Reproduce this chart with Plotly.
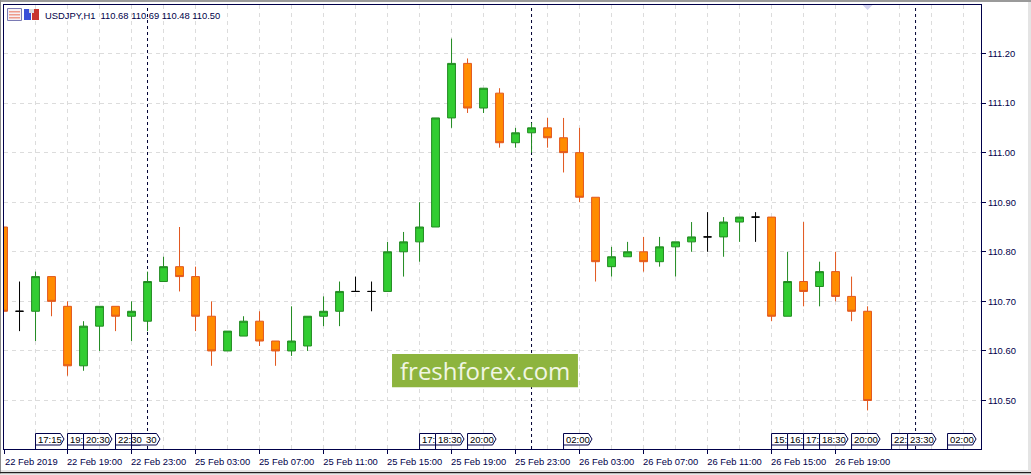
import plotly.graph_objects as go

# index, open, high, low, close of each hourly bar
bar_index = list(range(55))
opens = [110.85,110.68,110.68,110.75,110.69,110.57,110.65,110.69,110.67,110.66,110.74,110.77,110.75,110.67,110.60,110.63,110.66,110.62,110.60,110.61,
         110.67,110.68,110.72,110.72,110.72,110.80,110.82,110.85,111.07,111.18,111.09,111.12,111.02,111.04,111.05,111.03,111.00,110.91,110.77,110.79,
         110.80,110.78,110.81,110.82,110.83,110.83,110.86,110.87,110.87,110.67,110.74,110.73,110.76,110.71,110.68]
highs = [110.85,110.74,110.76,110.75,110.70,110.66,110.69,110.69,110.70,110.76,110.79,110.85,110.77,110.70,110.64,110.67,110.68,110.62,110.69,110.67,
         110.71,110.74,110.75,110.74,110.82,110.84,110.90,111.07,111.23,111.19,111.13,111.13,111.05,111.06,111.07,111.07,111.05,110.91,110.81,110.82,
         110.83,110.83,110.82,110.86,110.88,110.87,110.87,110.88,110.87,110.80,110.86,110.78,110.80,110.75,110.69]
lows = [110.68,110.64,110.62,110.67,110.55,110.56,110.60,110.64,110.62,110.64,110.74,110.72,110.64,110.57,110.60,110.63,110.61,110.57,110.59,110.60,
        110.65,110.65,110.72,110.68,110.72,110.75,110.78,110.85,111.05,111.08,111.08,111.01,111.01,111.00,111.01,110.96,110.90,110.74,110.75,110.79,
        110.76,110.77,110.75,110.80,110.80,110.79,110.82,110.82,110.66,110.67,110.69,110.69,110.70,110.66,110.48]
closes = [110.68,110.68,110.75,110.70,110.57,110.65,110.69,110.67,110.68,110.74,110.77,110.75,110.67,110.60,110.64,110.66,110.62,110.60,110.62,110.67,
          110.68,110.72,110.72,110.72,110.80,110.82,110.85,111.07,111.18,111.09,111.13,111.02,111.04,111.05,111.03,111.00,110.91,110.78,110.79,110.80,
          110.78,110.81,110.82,110.83,110.83,110.86,110.87,110.87,110.67,110.74,110.72,110.76,110.71,110.68,110.50]

y_ticks = [110.50,110.60,110.70,110.80,110.90,111.00,111.10,111.20]
x_tick_index = [0.05,4,8,12,16,20,24,28,32,36,40,44,48,52]
x_tick_labels = ["22 Feb 2019","22 Feb 19:00","22 Feb 23:00","25 Feb 03:00","25 Feb 07:00","25 Feb 11:00","25 Feb 15:00",
                 "25 Feb 19:00","25 Feb 23:00","26 Feb 03:00","26 Feb 07:00","26 Feb 11:00","26 Feb 15:00","26 Feb 19:00"]
day_separators = [9,33,57]
tag_index = [2,4,5,7,8,26,27,29,35,48,49,50,51,53,55.5,56.5,59]
tag_text = ["17:15","19:","20:30","22:30","30","17:","18:30","20:00","02:00","15:","16:","17:","18:30","20:00","22:","23:30","02:00"]
tag_clip = [0,1,0,0,0,1,0,0,0,1,1,1,0,0,1,0,0]

NAVY = "#00004a"
FONT = "Liberation Sans, Arial, sans-serif"
W, H = 1031, 475

doji = [o == c for o, c in zip(opens, closes)]
def pick(seq, want):
    return [v for v, d in zip(seq, doji) if d == want]

fig = go.Figure()
fig.add_trace(go.Candlestick(
    x=pick(bar_index, False), open=pick(opens, False), high=pick(highs, False),
    low=pick(lows, False), close=pick(closes, False),
    increasing=dict(fillcolor="#32cd32", line=dict(color="#228b22", width=1)),
    decreasing=dict(fillcolor="#ff8c00", line=dict(color="#e2571e", width=1)),
    whiskerwidth=0, showlegend=False, hoverinfo="skip"))
fig.add_trace(go.Candlestick(
    x=pick(bar_index, True), open=pick(opens, True), high=pick(highs, True),
    low=pick(lows, True), close=pick(closes, True),
    increasing=dict(fillcolor="#000000", line=dict(color="#000000", width=1)),
    decreasing=dict(fillcolor="#000000", line=dict(color="#000000", width=1)),
    whiskerwidth=0, showlegend=False, hoverinfo="skip"))

L, R, T, B = 4, 981, 5, 449
def px_rect(x0, y0, x1, y1, fill, line=None):
    """Rectangle given in page pixels, for the window chrome and header icons."""
    return dict(type="rect", xref="paper", yref="paper",
                x0=(x0 - L) / (R - L), x1=(x1 - L) / (R - L),
                y0=(B - y0) / (B - T), y1=(B - y1) / (B - T),
                fillcolor=fill, line=dict(color=line, width=1) if line else dict(width=0), layer="above")

shapes = []
for d in day_separators:
    shapes.append(dict(type="line", xref="x", yref="paper", x0=d, x1=d, y0=0, y1=1, layer="below",
                       line=dict(color="#000033", width=1, dash="3px,3px")))
annotations = []
for i, t, clip in zip(tag_index, tag_text, tag_clip):
    path = "M0,0 L0,15.5 L16,15.5 L16,4 L0,4" if clip else "M0,0 L0,15.5 L25,15.5 L28.5,10 L25,4 L0,4"
    shapes.append(dict(type="path", xref="x", yref="paper", xsizemode="pixel", ysizemode="pixel",
                       xanchor=i, yanchor=0, path=path, fillcolor="#ffffff", line=dict(color=NAVY, width=1)))
for i, t in zip(tag_index, tag_text):
    annotations.append(dict(x=i, y=0, xref="x", yref="paper", text=t, showarrow=False, xanchor="left", yanchor="bottom",
                            xshift=13 if t == "30" else 1, yshift=3, font=dict(family=FONT, size=9.5, color="#000000"),
                            borderpad=0))
# watermark
shapes.append(dict(type="rect", xref="x", yref="y", x0=24.28, x1=35.9, y0=110.527, y1=110.594, layer="above",
                   fillcolor="#8db43e", line=dict(width=0)))
annotations.append(dict(x=30.09, y=110.5605, xref="x", yref="y", text="freshforex.com", showarrow=False,
                        font=dict(family="Open Sans, sans-serif", size=24, color="#f1f6e4")))
# header
annotations.append(dict(x=0, y=1, xref="paper", yref="paper", xanchor="left", yanchor="top", xshift=39, yshift=-3, showarrow=False,
                        text="USDJPY,H1&nbsp;&nbsp;110.68 110.69 110.48 110.50", font=dict(family=FONT, size=9.4, color=NAVY)))
# window chrome
shapes += [px_rect(0, 0, W, 2, "#9a9a9a"), px_rect(0, 0, 1, H, "#8a8a8a"),
           px_rect(1, 470, W, 472, "#e4e4e4"), px_rect(0, 472, W, 473.5, "#202020"), px_rect(0, 473.5, W, H, "#e8e8e8"),
           px_rect(1028, 2, W, 472, "#e4e4e4")]
# header icons
shapes += [px_rect(7.5, 8.5, 21.5, 20.5, "#f6f0f4", "#7a7ab4")]
shapes += [px_rect(9, y, 20, y + 1.5, "#ee9c8c") for y in (11, 14, 17)]
shapes += [px_rect(24, 9, 31, 20, "#3a4fd8"), px_rect(32, 9, 39, 20, "#c8362e"),
           px_rect(29, 9, 34, 13, "#dddddd")]
# small marker on the top edge
shapes.append(dict(type="path", xref="x", yref="paper", xsizemode="pixel", ysizemode="pixel", xanchor=54, yanchor=1,
                   path="M-5,0 L5,0 L0,-5 Z", fillcolor="#d4d4f0", line=dict(width=0)))

fig.update_layout(
    width=W, height=H, margin=dict(l=L, r=W - R, t=T, b=H - B, pad=0),
    paper_bgcolor="#ffffff", plot_bgcolor="#ffffff", showlegend=False, shapes=shapes, annotations=annotations,
    boxgap=0.3, boxmode="overlay", font=dict(family=FONT, size=9.4, color=NAVY),
    xaxis=dict(range=[0.03, 61.09], rangeslider=dict(visible=False), tickmode="array", tickvals=x_tick_index, ticktext=x_tick_labels,
               ticks="outside", ticklen=4, tickcolor=NAVY, tickwidth=1, ticklabelshift=27, showline=True, mirror=True,
               linecolor=NAVY, linewidth=1, showgrid=True, gridcolor="#dcdcdc", griddash="4px,4px", gridwidth=1, zeroline=False,
               tickangle=0, tickfont=dict(family=FONT, size=9.4, color=NAVY),
               minor=dict(dtick=2, tick0=0, showgrid=True, gridcolor="#dcdcdc", griddash="4px,4px", gridwidth=1, ticks="")),
    yaxis=dict(side="right", range=[110.4022, 111.2978], tickmode="array", tickvals=y_ticks, ticktext=[f"{v:.2f}" for v in y_ticks],
               ticks="outside", ticklen=4, tickcolor=NAVY, tickwidth=1, showline=True, mirror=True, linecolor=NAVY, linewidth=1,
               showgrid=True, gridcolor="#dcdcdc", griddash="4px,4px", gridwidth=1, zeroline=False, tickfont=dict(family=FONT, size=9.4, color=NAVY)),
)
fig.write_html("out.html", config={"displayModeBar": False}, post_script="document.body.style.margin='0';")
